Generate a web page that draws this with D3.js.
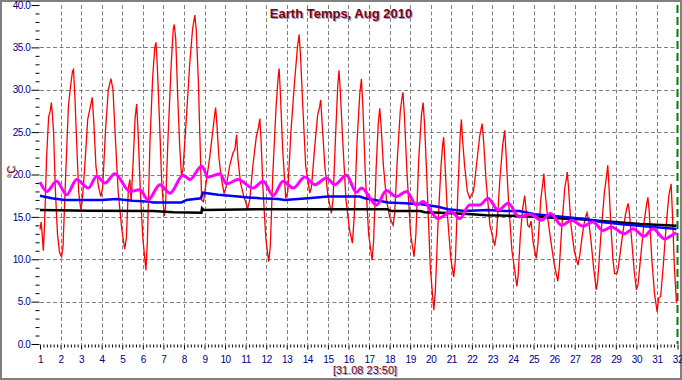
<!DOCTYPE html>
<html><head><meta charset="utf-8">
<script src="https://cdn.jsdelivr.net/npm/d3@7/dist/d3.min.js"></script>
<style>body{margin:0;background:#fff}svg{display:block}</style>
</head><body><svg id="c" width="682" height="380"></svg>
<script>
const title = "Earth Temps, Aug 2010";
const yLabel = "°C";
const footer = "[31.08 23:50]";
const yTicks = [0,5,10,15,20,25,30,35,40];
const xTicks = [1,2,3,4,5,6,7,8,9,10,11,12,13,14,15,16,17,18,19,20,21,22,23,24,25,26,27,28,29,30,31,32];

const redSeries = [[1.00,13.5],[1.06,14.4],[1.12,12.5],[1.16,11.0],[1.22,14],[1.32,22],[1.42,26.8],[1.50,27.5],[1.55,28.5],[1.60,27.2],[1.66,25],[1.75,18],[1.85,13],[1.95,10.8],[2.05,10.3],[2.12,11.5],[2.25,20],[2.38,28],[2.48,30.3],[2.58,32.2],[2.63,32.4],[2.70,29],[2.78,24],[2.88,18],[2.98,15.9],[3.05,16.8],[3.18,21],[3.32,26.5],[3.45,28],[3.54,29.1],[3.62,26],[3.72,21],[3.85,18.5],[3.96,17.4],[4.05,18.5],[4.18,25],[4.32,30],[4.45,31.3],[4.55,30],[4.65,25],[4.80,18],[4.98,13.5],[5.12,11.2],[5.20,12.5],[5.30,18.5],[5.37,19.4],[5.43,16.8],[5.52,21],[5.62,26.5],[5.70,28.3],[5.77,25],[5.88,18],[6.00,12.5],[6.15,8.7],[6.22,12],[6.35,24],[6.48,31.5],[6.58,35],[6.64,35.6],[6.70,33],[6.80,27],[6.92,19],[7.04,15.1],[7.10,16],[7.22,24],[7.38,33],[7.48,37.2],[7.53,37.7],[7.60,36],[7.70,29],[7.80,23],[7.88,19.9],[7.95,20.5],[8.10,26],[8.28,33],[8.42,37.2],[8.53,38.8],[8.60,37],[8.70,31],[8.78,24],[8.86,17.0],[8.95,16.8],[9.05,18.5],[9.25,22],[9.42,25.5],[9.50,27.2],[9.54,27.9],[9.60,26],[9.70,22],[9.82,19.5],[9.95,17.8],[10.05,18.5],[10.22,21],[10.38,22.5],[10.48,23],[10.56,24.7],[10.62,22],[10.75,19],[10.90,17.5],[11.10,16.0],[11.20,17],[11.35,21],[11.52,24.5],[11.62,25.5],[11.69,26.6],[11.75,24],[11.85,18],[11.98,12.5],[12.12,9.7],[12.20,11.5],[12.32,20],[12.48,28],[12.58,31.5],[12.63,32.5],[12.70,29],[12.80,23],[12.95,17.2],[13.05,18],[13.20,25],[13.38,31],[13.52,35],[13.60,36.5],[13.67,34],[13.78,28],[13.92,21],[14.12,17.8],[14.20,18.5],[14.35,23],[14.50,27],[14.60,28],[14.65,28.8],[14.72,26],[14.85,21],[15.00,17.5],[15.17,15.4],[15.25,17],[15.38,25],[15.48,30.5],[15.54,32.3],[15.60,30],[15.72,24],[15.88,17],[16.05,13.5],[16.19,11.9],[16.28,15],[16.42,24],[16.55,29.5],[16.63,31.3],[16.70,28],[16.82,20],[16.98,13],[17.15,9.9],[17.22,12],[17.35,21],[17.45,26],[17.52,27.8],[17.58,26],[17.70,21],[17.85,17],[18.00,15],[18.17,14.0],[18.25,15.5],[18.38,22],[18.52,27.5],[18.60,29],[18.65,29.7],[18.72,27],[18.85,20],[19.02,13],[19.19,10.3],[19.28,13],[19.42,22],[19.55,27],[19.63,28.5],[19.70,26],[19.82,19],[19.98,9],[20.15,4.0],[20.22,6],[20.35,14],[20.50,21],[20.58,23.5],[20.63,24.4],[20.70,21],[20.82,15],[20.98,10],[21.12,7.9],[21.20,10],[21.32,18],[21.43,24.5],[21.49,26.5],[21.55,24],[21.65,21],[21.78,18],[21.90,17.2],[21.98,17.6],[22.08,18],[22.22,21],[22.38,24.5],[22.50,26.0],[22.57,24],[22.70,19],[22.88,14],[23.11,11.6],[23.20,13],[23.35,19],[23.50,23.5],[23.60,25.2],[23.65,23],[23.78,17],[23.95,11],[24.19,6.8],[24.25,8],[24.35,12.5],[24.47,16],[24.57,17.5],[24.63,16],[24.72,14],[24.80,13.8],[24.88,14.5],[24.98,12],[25.13,10.1],[25.22,12],[25.35,17],[25.45,19],[25.50,20.1],[25.56,18],[25.68,15],[25.85,12],[26.00,9.5],[26.18,7.4],[26.25,9],[26.38,14],[26.52,18.5],[26.60,19.5],[26.64,20.3],[26.70,18.5],[26.82,14],[26.98,11],[27.16,9.3],[27.25,10.5],[27.38,13],[27.50,14.8],[27.60,15.5],[27.68,14.6],[27.80,12],[27.92,9],[28.05,6.4],[28.12,7.5],[28.28,13],[28.45,18],[28.55,19.8],[28.61,21.1],[28.66,19],[28.76,14],[28.86,10],[28.94,8.3],[29.05,8.3],[29.12,9],[29.28,12],[29.45,15],[29.55,16.2],[29.60,16.6],[29.66,15.5],[29.78,12],[29.90,8.5],[30.00,6.4],[30.08,7],[30.22,10.5],[30.38,14.5],[30.50,16.5],[30.56,17.3],[30.63,15.5],[30.75,10],[30.88,6],[31.01,3.8],[31.08,5.4],[31.18,5.6],[31.30,9],[31.45,14],[31.58,17.5],[31.66,18.5],[31.69,18.9],[31.76,15],[31.85,9],[31.95,4.8]];

const magentaSeries = [[1.0,19.1],[1.33,18.0],[1.81,19.2],[2.30,17.6],[2.78,19.4],[3.35,18.4],[3.76,19.8],[4.16,19.0],[4.64,20.1],[5.37,18.0],[5.86,18.2],[6.26,17.0],[6.83,18.8],[7.32,17.8],[7.96,19.9],[8.29,19.4],[8.86,21.0],[9.18,19.7],[9.75,20.1],[10.07,18.9],[10.64,19.4],[11.36,18.4],[11.85,19.2],[12.34,17.5],[12.82,19.2],[13.31,18.4],[13.88,19.7],[14.36,18.8],[14.93,19.6],[15.33,18.8],[15.90,19.9],[16.39,17.9],[16.63,18.4],[17.36,16.4],[17.85,18.1],[18.33,17.4],[18.82,18.0],[19.30,16.4],[19.62,16.8],[20.35,14.8],[21.0,15.6],[21.41,14.8],[21.89,16.4],[22.38,16.4],[22.79,17.2],[23.28,15.8],[23.77,16.6],[24.30,15.0],[24.83,15.3],[25.39,14.6],[25.82,15.4],[26.37,14.0],[26.85,14.6],[27.42,13.9],[27.88,14.4],[28.38,13.4],[28.79,13.8],[29.40,13.0],[29.84,13.6],[30.37,12.7],[30.81,13.6],[31.37,12.4],[31.85,13.0],[31.95,13.1]];

const blueSeries = [[1.0,17.5],[1.57,17.2],[2.2,17.0],[4.0,17.0],[4.73,17.1],[5.5,16.9],[6.3,16.8],[6.5,16.7],[7.88,16.7],[8.13,17.0],[8.82,17.2],[8.93,17.85],[9.66,17.6],[10.64,17.4],[11.12,17.3],[11.69,17.2],[12.58,17.1],[12.90,17.0],[14.04,17.2],[15.01,17.4],[16.55,17.4],[16.79,17.2],[17.28,17.0],[17.92,16.7],[18.74,16.6],[19.55,16.5],[20.35,16.2],[20.84,15.9],[21.65,15.7],[22.78,15.8],[23.59,15.7],[24.32,15.7],[25.05,15.3],[26.51,15.0],[27.48,14.75],[28.29,14.4],[29.43,14.1],[30.56,13.85],[31.86,13.6],[31.95,13.55]];

const blackSeries = [[1.0,15.8],[3.35,15.73],[6.5,15.7],[7.5,15.55],[8.85,15.5],[8.88,16.0],[8.95,15.8],[11.5,15.9],[17.9,15.9],[18.05,15.7],[19.5,15.7],[19.7,15.55],[20.5,15.5],[22.0,15.3],[22.7,15.2],[23.3,15.15],[24.3,15.1],[25.6,14.95],[26.4,14.8],[27.5,14.7],[28.3,14.5],[29.4,14.3],[30.2,14.15],[31.2,14.05],[31.95,13.95]];

const svg = d3.select("#c");
const x = d3.scaleLinear().domain([1,32]).range([40,677.5]);
const y = d3.scaleLinear().domain([0,40]).range([344,5]);

svg.append("rect").attr("x",1).attr("y",1).attr("width",680).attr("height",378)
  .attr("fill","#fff").attr("stroke","#808080").attr("stroke-width",2);

// grid
const grid = svg.append("g").attr("stroke","#808080").attr("stroke-width",1).attr("stroke-dasharray","4,2.5");
grid.selectAll("line.v").data(xTicks.filter(d=>d>1&&d<32)).join("line")
  .attr("x1",d=>Math.round(x(d))+0.5).attr("x2",d=>Math.round(x(d))+0.5)
  .attr("y1",y(40)).attr("y2",y(0));
grid.selectAll("line.h").data(yTicks.filter(d=>d>0&&d<40)).join("line").attr("class","h")
  .attr("x1",x(1)).attr("x2",x(32))
  .attr("y1",d=>Math.round(y(d))+0.5).attr("y2",d=>Math.round(y(d))+0.5);

// green end marker
svg.append("line").attr("x1",x(32)).attr("x2",x(32)).attr("y1",y(40)).attr("y2",y(0))
  .attr("stroke","#008000").attr("stroke-width",2).attr("stroke-dasharray","8,4");

// axes
const yMinor = d3.range(0,41,1).filter(d=>d%5!==0);
const yAx = svg.append("g").attr("transform","translate(39.5,0)")
  .call(d3.axisLeft(y).tickValues(yTicks).tickSize(8).tickPadding(1).tickFormat(d3.format(".1f")));
const yAxm = svg.append("g").attr("transform","translate(39.5,0)")
  .call(d3.axisLeft(y).tickValues(yMinor).tickSize(4).tickFormat(""));
const xMinor = d3.range(1,32).flatMap(d=>[1,2,3,4,5].map(k=>d+k/6));
const xAx = svg.append("g").attr("transform","translate(0,344.5)")
  .call(d3.axisBottom(x).tickValues(xTicks).tickSize(5).tickPadding(6));
const xAxm = svg.append("g").attr("transform","translate(0,344.5)")
  .call(d3.axisBottom(x).tickValues(xMinor).tickSize(3).tickFormat(""));
[yAx,yAxm,xAx,xAxm].forEach(g=>{
  g.select(".domain").remove();
  g.selectAll("line").attr("stroke","#000");
  g.selectAll("text").attr("fill","#000080").style("font-family","'Liberation Sans',Arial,sans-serif")
   .style("font-size","10px").style("letter-spacing","-0.4px");
});

// series
const line = d3.line().x(d=>x(d[0])).y(d=>y(d[1]));
svg.append("path").datum(redSeries).attr("d",line).attr("fill","none").attr("stroke","#ff0000").attr("stroke-width",1.3);
svg.append("path").datum(blackSeries).attr("d",line).attr("fill","none").attr("stroke","#000").attr("stroke-width",2.5);
svg.append("path").datum(blueSeries).attr("d",line).attr("fill","none").attr("stroke","#0000ff").attr("stroke-width",2.5);
svg.append("path").datum(magentaSeries).attr("d",line.curve(d3.curveMonotoneX)).attr("fill","none").attr("stroke","#ff00ff").attr("stroke-width",3);

// texts
const ff = "'Liberation Sans',Arial,sans-serif";
function shadowText(txt, tx, ty, size, weight, rot){
  const g = svg.append("g").attr("transform",`translate(${tx},${ty})${rot?` rotate(${rot})`:""}`);
  g.append("text").attr("x",1).attr("y",1).attr("text-anchor","middle").attr("fill","#a0a0d0")
    .style("font-family",ff).style("font-size",size+"px").style("font-weight",weight).text(txt);
  g.append("text").attr("text-anchor","middle").attr("fill","#800000")
    .style("font-family",ff).style("font-size",size+"px").style("font-weight",weight).text(txt);
}
shadowText(title, 341, 18, 13, "bold", 0);
shadowText(footer, 365, 374, 11, "normal", 0);
shadowText(yLabel, 15, 172, 11, "normal", -90);
</script></body></html>
